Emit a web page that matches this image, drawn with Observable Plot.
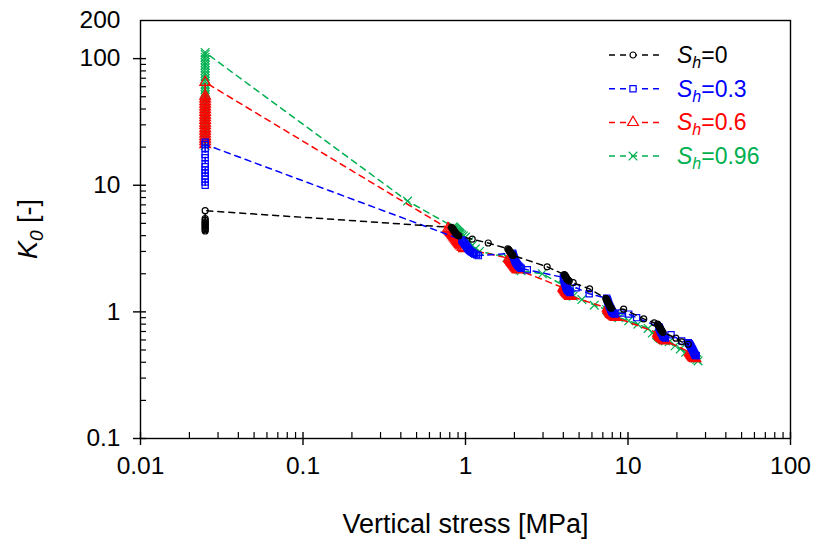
<!DOCTYPE html>
<html><head><meta charset="utf-8">
<script src="https://cdn.jsdelivr.net/npm/d3@7"></script>
<script src="https://cdn.jsdelivr.net/npm/@observablehq/plot@0.6"></script>
<style>body{margin:0;background:#fff}#chart{width:817px;height:546px}</style>
</head><body><div id="chart"></div>
<script>
// ---- data (vertical stress [MPa], K0 [-]) ----
const sh0Stress = [0.025,0.025,0.025,0.025,0.025,0.025,0.025,0.025,0.025,0.025,0.025,0.025,
  0.82,0.83,0.835,0.84,0.845,0.85,0.855,0.86,0.865,0.87,0.88,0.89,0.90,0.91,
  1.1,1.38,
  1.82,1.84,1.85,1.86,1.87,1.88,1.89,1.90,1.91,1.92,1.94,1.96,
  3.18,
  4.05,4.08,4.10,4.12,4.14,4.16,4.18,4.20,4.23,4.26,4.30,4.35,
  4.6,5.8,
  7.3,7.35,7.4,7.45,7.5,7.55,7.6,7.65,7.7,7.75,7.8,7.9,
  9.4,12.5,14.5,
  15.2,15.3,15.4,15.5,15.6,15.7,15.8,15.9,16.0,16.1,16.2,16.4,
  19.7,21.4,23.5];
const sh0K0 = [4.35,4.45,4.55,4.65,4.75,4.85,4.95,5.05,5.15,5.3,5.45,6.3,
  4.65,4.58,4.52,4.47,4.42,4.37,4.32,4.27,4.22,4.17,4.12,4.07,4.02,3.98,
  3.75,3.5,
  3.15,3.11,3.07,3.03,3.0,2.97,2.94,2.91,2.88,2.85,2.82,2.79,
  2.27,
  1.97,1.95,1.93,1.91,1.89,1.87,1.85,1.83,1.81,1.79,1.77,1.75,
  1.70,1.52,
  1.28,1.26,1.24,1.22,1.20,1.18,1.16,1.14,1.12,1.10,1.08,1.07,
  1.05,0.88,0.82,
  0.80,0.79,0.78,0.77,0.76,0.75,0.74,0.73,0.72,0.71,0.70,0.69,
  0.62,0.58,0.555];

const sh03Stress = [0.025,0.025,0.025,0.025,0.025,0.025,0.025,0.025,0.025,0.025,0.025,0.025,0.025,
  0.95,0.96,0.97,0.98,0.99,1.0,1.01,1.02,1.03,1.04,1.05,1.06,1.08,1.1,1.12,1.14,1.17,1.2,
  1.95,1.96,1.97,1.98,1.99,2.0,2.01,2.02,2.04,2.06,2.08,2.1,2.13,2.16,2.2,
  2.4,
  4.0,4.02,4.04,4.06,4.08,4.1,4.12,4.14,4.16,4.18,4.2,4.23,4.26,4.3,4.35,4.4,
  4.8,5.77,
  7.4,7.45,7.5,7.55,7.6,7.65,7.7,7.75,7.8,7.85,7.9,7.95,8.0,8.1,8.2,8.3,
  9.06,10.1,11.3,
  15.5,15.6,15.7,15.8,15.9,16.0,16.1,16.2,16.3,16.4,16.5,16.7,17.0,
  18.4,21.4,
  23.5,23.8,24.0,24.2,24.4,24.6,24.8,25.0,25.2,25.4,25.6,25.8,26.0,26.3];
const sh03K0 = [10.0,10.6,11.2,11.8,12.5,13.2,14.0,14.8,16.5,17.5,19.4,21.9,21.0,
  3.7,3.63,3.56,3.5,3.44,3.38,3.32,3.26,3.2,3.15,3.1,3.05,3.0,2.95,2.9,2.86,2.82,2.78,
  2.9,2.84,2.78,2.72,2.67,2.62,2.57,2.52,2.47,2.42,2.37,2.33,2.29,2.25,2.21,
  2.15,
  1.87,1.83,1.79,1.75,1.71,1.67,1.64,1.61,1.58,1.55,1.52,1.5,1.48,1.46,1.44,1.42,
  1.55,1.39,
  1.28,1.25,1.22,1.19,1.16,1.13,1.11,1.09,1.07,1.05,1.03,1.01,0.995,0.98,0.97,0.96,
  0.98,0.96,0.90,
  0.76,0.745,0.73,0.715,0.70,0.69,0.68,0.67,0.66,0.65,0.64,0.63,0.62,
  0.66,0.59,
  0.57,0.56,0.55,0.54,0.53,0.52,0.51,0.50,0.49,0.48,0.47,0.46,0.455,0.45];

const sh06Stress = [0.025,0.025,0.025,0.025,0.025,0.025,0.025,0.025,0.025,0.025,0.025,0.025,0.025,0.025,0.025,0.025,0.025,0.025,0.025,0.025,
  0.78,0.79,0.8,0.81,0.82,0.83,0.84,0.85,0.86,0.87,0.88,0.89,0.9,0.91,0.92,0.93,0.94,0.96,0.98,
  1.85,1.87,1.89,1.91,1.93,1.95,1.97,1.99,2.01,2.03,2.05,2.08,2.1,
  4.0,4.03,4.06,4.09,4.12,4.15,4.18,4.21,4.25,4.3,4.35,4.4,
  7.5,7.55,7.6,7.65,7.7,7.75,7.8,7.85,7.9,8.0,8.1,8.2,8.3,8.4,
  15.3,15.4,15.5,15.6,15.7,15.8,15.9,16.0,16.2,16.4,16.6,16.8,17.0,
  24.0,24.2,24.4,24.6,24.8,25.0,25.2,25.4,25.6,25.8,26.0];
const sh06K0 = [21,22.1,23.2,24.3,25.5,26.8,28.1,29.6,31.0,32.6,34.2,35.9,37.7,39.6,41.6,43.7,45.9,48.2,50.6,65,
  4.55,4.45,4.35,4.26,4.17,4.08,4.0,3.92,3.84,3.77,3.7,3.63,3.56,3.5,3.44,3.38,3.32,3.24,3.16,
  2.65,2.6,2.55,2.5,2.46,2.42,2.38,2.34,2.3,2.26,2.22,2.18,2.15,
  1.55,1.53,1.51,1.49,1.47,1.45,1.43,1.41,1.39,1.37,1.35,1.33,
  1.07,1.055,1.04,1.025,1.01,0.995,0.98,0.965,0.955,0.945,0.935,0.925,0.915,0.905,
  0.68,0.672,0.664,0.656,0.648,0.641,0.634,0.627,0.62,0.613,0.606,0.599,0.592,
  0.48,0.472,0.465,0.458,0.452,0.446,0.44,0.436,0.433,0.43,0.428];

const sh096Stress = [0.025,0.025,0.025,0.025,0.025,0.025,0.025,0.025,0.025,0.025,0.025,0.025,
  0.025,0.025,0.025,0.025,0.025,0.025,0.025,0.025,0.025,0.025,0.025,0.025,
  0.025,0.025,0.025,0.025,0.025,0.025,0.025,0.025,0.025,0.025,0.025,0.025,
  0.44,
  0.84,0.85,0.86,0.87,0.88,0.89,0.9,0.91,0.92,0.93,0.95,0.97,1.0,
  1.05,1.1,1.15,1.22,
  1.8,1.83,1.86,1.89,1.92,1.95,1.98,2.01,2.04,2.08,2.12,2.16,2.2,
  2.97,
  4.0,4.04,4.08,4.12,4.16,4.2,4.25,4.3,4.35,4.4,4.5,4.6,
  5.2,6.2,
  7.4,7.5,7.6,7.7,7.8,7.9,8.0,8.1,8.2,8.4,8.6,8.8,
  10.1,11.5,13.3,14.1,
  15.0,15.2,15.4,15.6,15.8,16.0,16.3,16.6,17.0,
  17.9,19.5,21.0,22.6,
  25.0,25.3,25.6,26.0,26.5,27.0];
const sh096K0 = [20.5,21.5,22.6,23.7,24.9,26.2,27.5,28.9,30.3,31.8,33.4,35.1,
  36.8,38.7,40.6,42.6,44.8,47.0,49.4,51.8,54.4,57.2,60.0,63.0,
  66.2,69.5,73.0,76.6,80.4,84.5,88.7,93.1,97.8,102.7,107.8,112,
  7.5,
  4.7,4.62,4.55,4.48,4.41,4.35,4.29,4.23,4.17,4.11,4.05,3.98,3.9,
  3.6,3.35,3.15,3.0,
  2.7,2.64,2.58,2.52,2.47,2.42,2.37,2.32,2.27,2.23,2.19,2.15,2.11,
  2.0,
  1.62,1.59,1.56,1.53,1.5,1.48,1.46,1.44,1.42,1.4,1.37,1.33,
  1.25,1.13,
  1.04,1.02,1.0,0.99,0.98,0.97,0.96,0.95,0.94,0.93,0.915,0.9,
  0.85,0.80,0.74,0.68,
  0.66,0.65,0.64,0.63,0.62,0.615,0.605,0.6,0.59,
  0.58,0.54,0.51,0.48,
  0.46,0.45,0.44,0.43,0.42,0.41];

const seriesValues = ["0", "0.3", "0.6", "0.96"];
const seriesColors = ["#000000", "#0000FF", "#FF0000", "#00B050"];
const seriesSymbols = ["circle", "square", "triangle", "times"];
const seriesStress = [sh0Stress, sh03Stress, sh06Stress, sh096Stress];
const seriesK0 = [sh0K0, sh03K0, sh06K0, sh096K0];

const xMajorTicks = [0.01, 0.1, 1, 10, 100];
const xMinorTicks = [0.02,0.03,0.04,0.05,0.06,0.07,0.08,0.09,0.2,0.3,0.4,0.5,0.6,0.7,0.8,0.9,2,3,4,5,6,7,8,9,20,30,40,50,60,70,80,90];
const yMajorTicks = [0.1, 1, 10, 100];
const yLabelTicks = [0.1, 1, 10, 100, 200];
const yMinorTicks = [0.2,0.3,0.4,0.5,0.6,0.7,0.8,0.9,2,3,4,5,6,7,8,9,20,30,40,50,60,70,80,90];
const xTitle = "Vertical stress [MPa]";

// ---- layout ----
const W = 817, H = 546, mL = 140, mR = 27, mT = 20, mB = 108;
const plotW = W - mL - mR, plotH = H - mT - mB;
const FONT = "'Liberation Sans', Arial, sans-serif";
const symR = {circle: 3, square: 3.5, triangle: 4, times: 4};
const DASH = "6,5";

const seriesMarks = [];
[3, 2, 1, 0].forEach(s => {
  const rows = seriesStress[s].map((x, i) => ({x, y: seriesK0[s][i]}));
  seriesMarks.push(Plot.line(rows, {x: "x", y: "y", stroke: seriesColors[s], strokeWidth: 1.5, strokeDasharray: DASH}));
  seriesMarks.push(Plot.dot(rows, {x: "x", y: "y", symbol: seriesSymbols[s], r: symR[seriesSymbols[s]], stroke: seriesColors[s], fill: "none", strokeWidth: 1.2}));
});

const chart = Plot.plot({
  width: W, height: H,
  marginLeft: mL, marginRight: mR, marginTop: mT, marginBottom: mB,
  style: {fontFamily: FONT, fontSize: "24px", color: "#000", background: "#fff", overflow: "visible"},
  x: {type: "log", domain: [0.01, 100]},
  y: {type: "log", domain: [0.1, 200]},
  marks: [
    ...seriesMarks,
    Plot.frame({stroke: "#000", strokeWidth: 1.4}),
    Plot.tickX(xMinorTicks, {x: d => d, insetTop: plotH - 6, stroke: "#000", strokeWidth: 1.2}),
    Plot.tickX(xMajorTicks, {x: d => d, insetTop: plotH - 6, insetBottom: -7, stroke: "#000", strokeWidth: 1.4}),
    Plot.tickY(yMinorTicks, {y: d => d, insetRight: plotW - 6, stroke: "#000", strokeWidth: 1.2}),
    Plot.tickY(yMajorTicks, {y: d => d, insetRight: plotW - 6, insetLeft: -7, stroke: "#000", strokeWidth: 1.4}),
    Plot.axisX(xMajorTicks, {tickSize: 0, tickPadding: 18, tickFormat: d => String(d), fontSize: 24.5, label: null}),
    Plot.axisY(yLabelTicks, {tickSize: 0, tickPadding: 20, tickFormat: d => String(d), fontSize: 24.5, label: null}),
    Plot.text([xTitle], {frameAnchor: "bottom", dy: 86, text: d => d, fontSize: 27, lineAnchor: "middle", fill: "#000"})
  ]
});
document.getElementById("chart").appendChild(chart);

// ---- y-axis title with italic subscript ----
const svg = d3.select(chart);
const yt = svg.append("text")
  .attr("transform", `translate(37,${mT + plotH / 2}) rotate(-90)`)
  .attr("text-anchor", "middle")
  .style("font-family", FONT).style("font-size", "27px").attr("fill", "#000");
yt.append("tspan").style("font-style", "italic").text("K");
yt.append("tspan").style("font-style", "italic").style("font-size", "19px").attr("dy", 6).text("0");
yt.append("tspan").attr("dy", -6).text(" [-]");

// ---- legend ----
const symbolMap = {circle: d3.symbolCircle, square: d3.symbolSquare, triangle: d3.symbolTriangle, times: d3.symbolTimes};
const lg = svg.append("g");
seriesValues.forEach((v, i) => {
  const y = 55 + i * 33.7;
  const c = seriesColors[i];
  lg.append("line").attr("x1", 609).attr("x2", 663).attr("y1", y).attr("y2", y)
    .attr("stroke", c).attr("stroke-width", 1.5).attr("stroke-dasharray", DASH);
  const r = symR[seriesSymbols[i]];
  lg.append("path").attr("d", d3.symbol(symbolMap[seriesSymbols[i]], r * r * Math.PI)())
    .attr("transform", `translate(633,${y})`).attr("fill", "white").attr("stroke", c).attr("stroke-width", 1.2);
  const t = lg.append("text").attr("x", 677).attr("y", y + 8).attr("fill", c)
    .attr("text-anchor", "start")
    .style("font-family", FONT).style("font-size", "23px");
  t.append("tspan").style("font-style", "italic").text("S");
  t.append("tspan").style("font-style", "italic").style("font-size", "16px").attr("dy", 5).text("h");
  t.append("tspan").attr("dy", -5).text("=" + v);
});
</script></body></html>
